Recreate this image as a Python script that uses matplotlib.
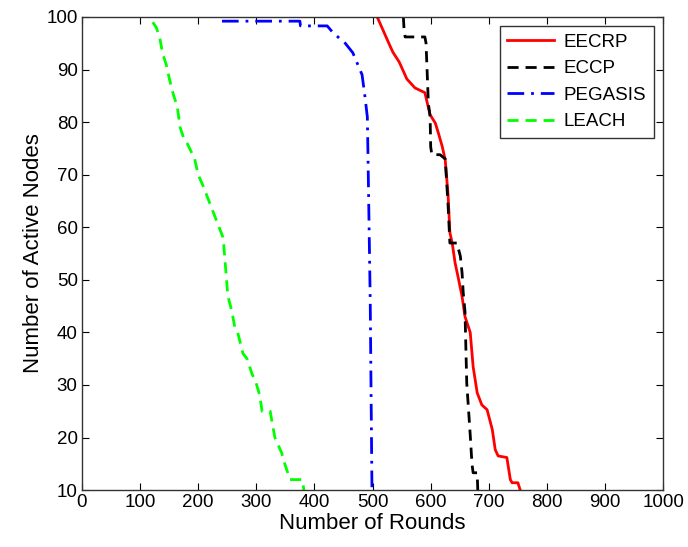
import matplotlib
matplotlib.use("Agg")
import matplotlib.pyplot as plt

plt.rcParams['font.family'] = ['Liberation Sans', 'DejaVu Sans']

# EECRP (red, solid)
eecrp_rounds = [508, 518, 530, 535, 546, 559, 573, 590, 594, 599, 608, 613, 620, 625, 630, 633,
                637, 642, 647, 654, 659, 668, 673, 680, 688, 697, 706, 711, 716, 731, 737, 740, 750, 754]
eecrp_nodes = [100, 97.5, 94.5, 93.3, 91.4, 88.2, 86.5, 85.6, 83.7, 81.4, 79.8, 78, 75.3, 72.8, 66, 59,
               57, 53.2, 50.6, 46.8, 43, 40, 33.5, 28.5, 26.2, 25.3, 21.5, 17.7, 16.5, 16.2, 12, 11.4, 11.4, 10]

# ECCP (black, dashed)
eccp_rounds = [553, 554, 556, 590, 592, 596, 599, 600, 602, 616, 625, 630, 633, 645, 651, 654, 656,
               659, 662, 665, 668, 671, 673, 680, 681]
eccp_nodes = [100, 98, 96.2, 96.2, 95, 83.6, 81, 75.3, 73.8, 73.8, 73, 64, 57, 57, 54.5, 51.3, 47.5,
              44, 30.4, 25.5, 20.5, 15, 13.3, 13.3, 10]

# PEGASIS (blue, dash-dot)
pegasis_rounds = [241, 375, 376, 422, 432, 453, 466, 482, 487, 491, 492, 496, 499]
pegasis_nodes = [99.2, 99.2, 98.3, 98.3, 97, 95, 93.2, 89, 84.8, 81, 74.7, 46, 10]

# LEACH (green, dashed)
leach_rounds = [122, 128, 134, 139, 145, 151, 158, 164, 169, 175, 181, 194, 200, 208, 215, 229, 243,
                246, 251, 258, 263, 268, 277, 284, 293, 298, 306, 310, 324, 327, 332, 336, 344, 346,
                355, 358, 379, 382]
leach_nodes = [99, 98, 96, 93, 91, 88, 85, 83, 79, 77, 76, 73, 70, 68, 66, 62, 58,
               54, 47, 44, 41, 40, 36, 35, 32, 31, 28, 25, 25, 23, 20, 19, 17, 16,
               13, 12, 12, 10]

series_labels = ['EECRP', 'ECCP', 'PEGASIS', 'LEACH']
x_ticks = list(range(0, 1001, 100))
y_ticks = list(range(10, 101, 10))

fig = plt.figure(figsize=(6.88, 5.47), dpi=100)
ax = fig.add_axes([0.119, 0.104, 0.845, 0.865])

ax.plot(eecrp_rounds, eecrp_nodes, color='#ff0000', lw=2.0, ls='-', label=series_labels[0])
ax.plot(eccp_rounds, eccp_nodes, color='black', lw=2.0, ls=(0, (4, 2.5)), label=series_labels[1])
ax.plot(pegasis_rounds, pegasis_nodes, color='#0000ff', lw=2.0, ls=(0, (6, 2.5, 1, 2.5)), label=series_labels[2])
ax.plot(leach_rounds, leach_nodes, color='#00ff00', lw=2.0, ls=(0, (4, 2.5)), label=series_labels[3])

ax.set_xlim(0, 1000)
ax.set_ylim(10, 100)
ax.set_xticks(x_ticks)
ax.set_yticks(y_ticks)
ax.tick_params(direction='in', top=True, right=True, labelsize=13.5, length=5, width=0.8, pad=3)
for s in ax.spines.values():
    s.set_linewidth(1.0)
    s.set_color('#333333')

ax.set_xlabel('Number of Rounds', fontsize=16, labelpad=1)
ax.set_ylabel('Number of Active Nodes', fontsize=16, labelpad=2)

leg = ax.legend(loc='upper right', fontsize=13.5, frameon=True, fancybox=False,
                edgecolor='black', handlelength=2.5, borderaxespad=0.5, labelspacing=0.5,
                handletextpad=0.5)
leg.get_frame().set_linewidth(1.0)

fig.savefig('out.png', dpi=100)
